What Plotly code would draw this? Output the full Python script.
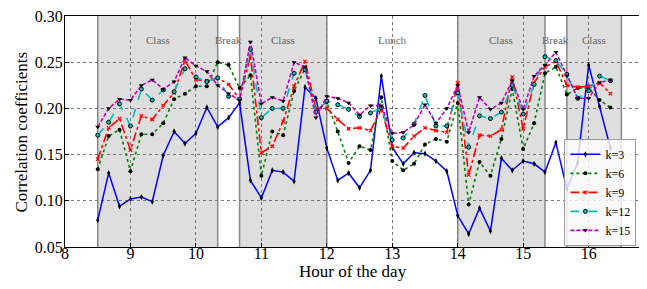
import plotly.graph_objects as go

hours = [8.5, 8.667, 8.833, 9.0, 9.167, 9.333, 9.5, 9.667, 9.833, 10.0, 10.167, 10.333,
         10.5, 10.667, 10.833, 11.0, 11.167, 11.333, 11.5, 11.667, 11.833, 12.0, 12.167, 12.333,
         12.5, 12.667, 12.833, 13.0, 13.167, 13.333, 13.5, 13.667, 13.833, 14.0, 14.167, 14.333,
         14.5, 14.667, 14.833, 15.0, 15.167, 15.333, 15.5, 15.667, 15.833, 16.0, 16.167, 16.333]

k3 = [0.079, 0.130, 0.094, 0.102, 0.104, 0.099, 0.149, 0.175, 0.162, 0.173, 0.201, 0.180,
      0.190, 0.206, 0.122, 0.103, 0.133, 0.131, 0.121, 0.223, 0.211, 0.157, 0.122, 0.130,
      0.114, 0.133, 0.235, 0.158, 0.140, 0.152, 0.151, 0.143, 0.132, 0.084, 0.064, 0.092,
      0.067, 0.146, 0.133, 0.143, 0.140, 0.131, 0.163, 0.113, 0.141, 0.247, 0.202, 0.157]

k6 = [0.134, 0.170, 0.177, 0.132, 0.172, 0.172, 0.184, 0.210, 0.216, 0.224, 0.224, 0.250,
      0.247, 0.222, 0.236, 0.127, 0.175, 0.171, 0.219, 0.243, 0.197, 0.207, 0.175, 0.141,
      0.159, 0.155, 0.212, 0.143, 0.133, 0.140, 0.161, 0.167, 0.164, 0.206, 0.096, 0.142,
      0.127, 0.167, 0.221, 0.156, 0.184, 0.238, 0.245, 0.215, 0.222, 0.222, 0.209, 0.201]

k9 = [0.145, 0.179, 0.189, 0.155, 0.192, 0.188, 0.203, 0.217, 0.252, 0.231, 0.230, 0.233,
      0.226, 0.210, 0.257, 0.152, 0.159, 0.186, 0.224, 0.251, 0.200, 0.200, 0.188, 0.178,
      0.179, 0.176, 0.199, 0.159, 0.157, 0.170, 0.179, 0.176, 0.174, 0.228, 0.128, 0.171,
      0.170, 0.177, 0.234, 0.178, 0.228, 0.245, 0.251, 0.225, 0.223, 0.224, 0.228, 0.216]

k12 = [0.171, 0.185, 0.205, 0.181, 0.221, 0.209, 0.220, 0.218, 0.243, 0.234, 0.229, 0.233,
       0.213, 0.210, 0.264, 0.190, 0.200, 0.200, 0.238, 0.242, 0.196, 0.208, 0.204, 0.199,
       0.191, 0.195, 0.201, 0.166, 0.168, 0.183, 0.214, 0.181, 0.181, 0.217, 0.158, 0.192,
       0.189, 0.196, 0.225, 0.194, 0.226, 0.256, 0.252, 0.237, 0.211, 0.219, 0.235, 0.230]

k15 = [0.180, 0.200, 0.210, 0.209, 0.225, 0.231, 0.221, 0.229, 0.255, 0.246, 0.240, 0.225,
       0.216, 0.209, 0.272, 0.205, 0.212, 0.208, 0.250, 0.245, 0.190, 0.213, 0.211, 0.206,
       0.193, 0.203, 0.203, 0.173, 0.174, 0.182, 0.204, 0.184, 0.200, 0.225, 0.174, 0.212,
       0.199, 0.206, 0.230, 0.199, 0.235, 0.247, 0.261, 0.235, 0.211, 0.211, 0.228, 0.231]

periods = [(8.5, 10.333, "Class", True), (10.333, 10.667, "Break", False),
           (10.667, 12.0, "Class", True), (12.0, 14.0, "Lunch", False),
           (14.0, 15.333, "Class", True), (15.333, 15.667, "Break", False),
           (15.667, 16.5, "Class", True)]

x_ticks = [8, 9, 10, 11, 12, 13, 14, 15, 16]
y_ticks = [0.05, 0.10, 0.15, 0.20, 0.25, 0.30]

SERIF = "Liberation Serif"

fig = go.Figure()

series = [
    ("k=3", k3, dict(color="#0000ff", width=1.5, dash="solid"),
     dict(symbol="diamond-tall", size=4.5, color="black", line=dict(width=0))),
    ("k=6", k6, dict(color="#008000", width=1.6, dash="dot"),
     dict(symbol="circle", size=4, color="black", line=dict(width=0))),
    ("k=9", k9, dict(color="#ff0000", width=1.6, dash="dashdot"),
     dict(symbol="x-thin", size=3.5, color="#ff0000", line=dict(width=1.2, color="#ff0000"))),
    ("k=12", k12, dict(color="#00bfbf", width=1.6, dash="dash"),
     dict(symbol="circle", size=4, color="#00bfbf", line=dict(width=1, color="black"))),
    ("k=15", k15, dict(color="#bf00bf", width=1.6, dash="4px,2px"),
     dict(symbol="triangle-down", size=4.5, color="black", line=dict(width=0))),
]

for name, vals, ln, mk in series:
    fig.add_trace(go.Scatter(x=hours, y=vals, mode="lines+markers", name=name,
                             line=ln, marker=mk))

shapes = []
annotations = []
for x0, x1, label, shaded in periods:
    if shaded:
        shapes.append(dict(type="rect", xref="x", yref="paper", x0=x0, x1=x1, y0=0, y1=1,
                           fillcolor="#dedede", line=dict(width=0), layer="below"))
        for xv in (x0, x1):
            shapes.append(dict(type="line", xref="x", yref="paper", x0=xv, x1=xv, y0=0, y1=1,
                               line=dict(color="#888888", width=1.5), layer="below"))
    annotations.append(dict(x=(x0 + x1) / 2, y=0.2745, xref="x", yref="y", text=label,
                            showarrow=False, font=dict(family=SERIF, size=11, color="#666666")))

annotations.append(dict(x=0.5, y=-0.104, xref="paper", yref="paper", text="Hour of the day",
                        showarrow=False, xanchor="center", yanchor="middle",
                        font=dict(family=SERIF, size=17, color="black")))
annotations.append(dict(x=-0.0747, y=0.5, xref="paper", yref="paper", text="Correlation coefficients",
                        showarrow=False, xanchor="center", yanchor="middle", textangle=-90,
                        font=dict(family=SERIF, size=17, color="black")))

fig.update_layout(
    width=639, height=281,
    margin=dict(l=57, r=6, t=8, b=42, autoexpand=False),
    paper_bgcolor="white", plot_bgcolor="white",
    font=dict(family=SERIF, color="black"),
    shapes=shapes, annotations=annotations,
    showlegend=True,
    legend=dict(x=0.992, y=0.005, xanchor="right", yanchor="bottom",
                bgcolor="rgba(255,255,255,0.8)", bordercolor="#999999", borderwidth=1,
                font=dict(family=SERIF, size=12), tracegroupgap=0, itemwidth=30),
)

fig.update_xaxes(range=[8, 16.8], tickvals=x_ticks, ticktext=[str(v) for v in x_ticks],
                 automargin=False, ticklabelstandoff=-8, ticklabeloverflow="allow",
                 showline=True, linecolor="black", linewidth=1.2, mirror=True,
                 ticks="inside", ticklen=4, tickcolor="black",
                 showgrid=True, gridcolor="#777777", griddash="dot", gridwidth=0.8,
                 zeroline=False, tickfont=dict(size=16, family=SERIF))
fig.update_yaxes(range=[0.0499, 0.3001], tickvals=y_ticks, ticktext=[f"{v:.2f}" for v in y_ticks],
                 automargin=False, ticklabelstandoff=-2, ticklabeloverflow="allow",
                 showline=True, linecolor="black", linewidth=1.2, mirror=True,
                 ticks="inside", ticklen=4, tickcolor="black",
                 showgrid=True, gridcolor="#777777", griddash="dot", gridwidth=0.8,
                 zeroline=False, tickfont=dict(size=16, family=SERIF))

fig.write_html("out.html")
